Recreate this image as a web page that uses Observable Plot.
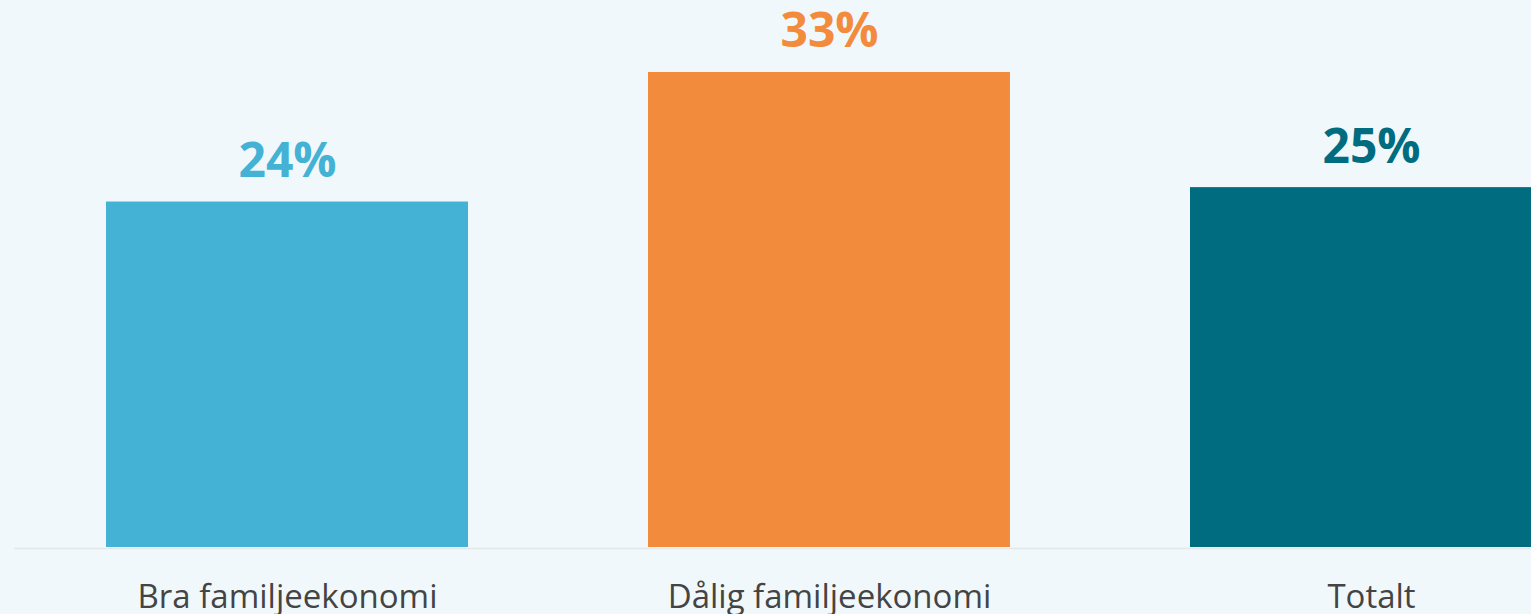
<!DOCTYPE html>
<html>
<head>
<meta charset="utf-8">
<script src="https://cdn.jsdelivr.net/npm/d3@7"></script>
<script src="https://cdn.jsdelivr.net/npm/@observablehq/plot@0.6"></script>
<style>
  html, body { margin: 0; padding: 0; background: #f1f8fb; overflow: hidden; }
  #chart svg { display: block; overflow: hidden; }
</style>
</head>
<body>
<div id="chart"></div>
<script>
const categories = ["Bra familjeekonomi", "Dålig familjeekonomi", "Totalt"];
const values = [24, 33, 25];
const colors = ["#44b2d4", "#f38b3d", "#006c80"];
const valueLabels = ["24%", "33%", "25%"];

const data = categories.map((c, i) => ({cat: c, value: values[i], color: colors[i], label: valueLabels[i]}));

const chart = Plot.plot({
  width: 1531,
  height: 614,
  marginLeft: 14,
  marginRight: 0,
  marginTop: 0,
  marginBottom: 67,
  style: {background: "#f1f8fb", fontFamily: "'Open Sans', sans-serif"},
  x: {domain: categories, range: [105, 1552], paddingInner: 0.333, paddingOuter: 0, axis: null},
  y: {domain: [0, 38], range: [547, 0], axis: null},
  marks: [
    Plot.ruleY([0], {stroke: "#e4e8e9", strokeWidth: 1.5, dy: 1}),
    Plot.barY(data, {x: "cat", y: "value", fill: "color"}),
    Plot.text(data, {x: "cat", y: "value", text: "label", fill: "color", fontSize: 48, fontWeight: "bold", lineAnchor: "bottom", dy: -25}),
    Plot.text(data, {x: "cat", y: 0, text: "cat", fill: "#444444", fontSize: 33, lineAnchor: "bottom", dy: 60})
  ]
});
document.getElementById("chart").appendChild(chart);
</script>
</body>
</html>
